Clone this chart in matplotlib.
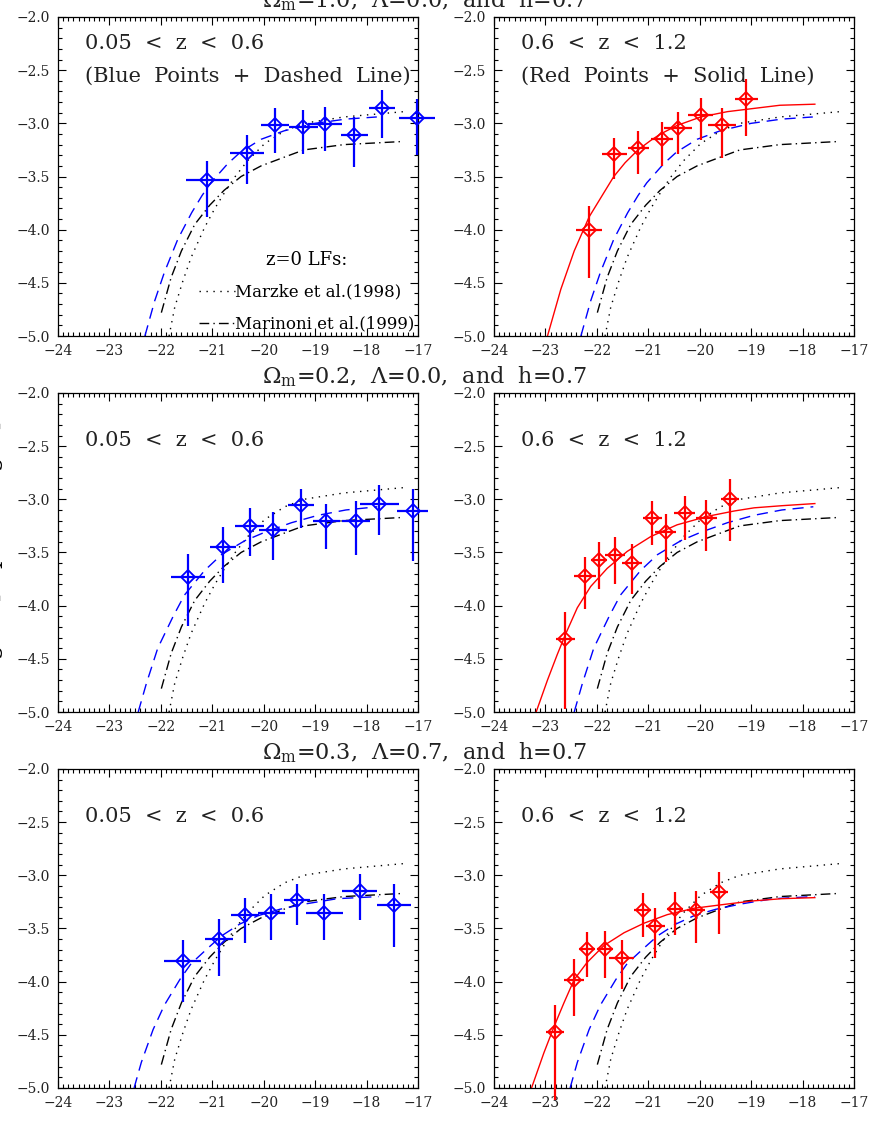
import matplotlib.pyplot as plt
from matplotlib.ticker import MultipleLocator

plt.rcParams['font.family'] = ['DejaVu Serif']
plt.rcParams['mathtext.fontset'] = 'dejavuserif'

# z=0 LFs (same in every panel)
marzke_m = [-21.84, -21.73, -21.57, -21.41, -21.15, -20.95, -20.76, -20.57, -20.31, -19.98, -19.59, -19.22, -18.44, -17.27]
marzke_phi = [-5.00, -4.73, -4.48, -4.26, -3.98, -3.80, -3.65, -3.51, -3.35, -3.19, -3.07, -3.00, -2.94, -2.89]
marinoni_m = [-21.99, -21.80, -21.60, -21.34, -21.05, -20.77, -20.44, -20.05, -19.61, -19.22, -18.44, -17.27]
marinoni_phi = [-4.78, -4.45, -4.20, -3.95, -3.77, -3.63, -3.50, -3.40, -3.32, -3.25, -3.20, -3.17]

# row 1: Om=1.0, L=0.0
r1_lo_m = [-21.10, -20.33, -19.78, -19.23, -18.81, -18.24, -17.70, -17.02]
r1_lo_phi = [-3.53, -3.28, -3.02, -3.03, -3.01, -3.11, -2.86, -2.95]
r1_lo_up = [0.18, 0.17, 0.16, 0.16, 0.16, 0.17, 0.17, 0.18]
r1_lo_dn = [0.35, 0.29, 0.26, 0.26, 0.25, 0.30, 0.28, 0.35]
r1_lo_dm = [0.42, 0.33, 0.28, 0.28, 0.33, 0.26, 0.26, 0.35]
r1_hi_m = [-22.15, -21.66, -21.19, -20.73, -20.42, -19.98, -19.57, -19.09]
r1_hi_phi = [-4.00, -3.29, -3.23, -3.15, -3.04, -2.92, -3.02, -2.77]
r1_hi_up = [0.22, 0.15, 0.16, 0.16, 0.15, 0.16, 0.16, 0.19]
r1_hi_dn = [0.45, 0.23, 0.25, 0.25, 0.25, 0.24, 0.31, 0.35]
r1_hi_dm = [0.25, 0.24, 0.21, 0.22, 0.27, 0.24, 0.27, 0.22]
r1_dash_m = [-22.31, -22.12, -21.93, -21.67, -21.40, -21.20, -21.03, -20.70, -20.45, -20.05, -19.60, -19.00, -18.40, -17.80]
r1_dash_phi = [-5.00, -4.67, -4.40, -4.09, -3.84, -3.68, -3.56, -3.38, -3.27, -3.15, -3.07, -3.00, -2.96, -2.94]
r1_solid_m = [-22.96, -22.70, -22.44, -22.15, -21.86, -21.67, -21.45, -21.20, -20.95, -20.76, -20.44, -19.98, -19.46, -18.95, -18.44, -17.76]
r1_solid_phi = [-5.00, -4.56, -4.20, -3.88, -3.65, -3.50, -3.37, -3.25, -3.16, -3.10, -3.02, -2.94, -2.89, -2.86, -2.83, -2.82]

# row 2: Om=0.2, L=0.0
r2_lo_m = [-21.47, -20.79, -20.27, -19.82, -19.28, -18.78, -18.21, -17.75, -17.10]
r2_lo_phi = [-3.73, -3.45, -3.25, -3.29, -3.05, -3.20, -3.20, -3.04, -3.11]
r2_lo_up = [0.22, 0.19, 0.17, 0.17, 0.15, 0.16, 0.18, 0.17, 0.21]
r2_lo_dn = [0.46, 0.34, 0.28, 0.28, 0.22, 0.27, 0.32, 0.30, 0.47]
r2_lo_dm = [0.33, 0.26, 0.28, 0.27, 0.25, 0.27, 0.27, 0.38, 0.30]
r2_hi_m = [-22.61, -22.23, -21.96, -21.65, -21.32, -20.92, -20.66, -20.29, -19.87, -19.41]
r2_hi_phi = [-4.31, -3.72, -3.57, -3.52, -3.60, -3.18, -3.31, -3.13, -3.18, -3.00]
r2_hi_up = [0.25, 0.18, 0.17, 0.17, 0.18, 0.16, 0.17, 0.16, 0.17, 0.19]
r2_hi_dn = [0.66, 0.31, 0.27, 0.28, 0.29, 0.25, 0.28, 0.25, 0.31, 0.39]
r2_hi_dm = [0.19, 0.22, 0.16, 0.19, 0.20, 0.18, 0.20, 0.20, 0.20, 0.17]
r2_dash_m = [-22.44, -22.28, -22.06, -21.76, -21.54, -21.15, -20.82, -20.37, -19.98, -19.46, -18.94, -18.40, -17.79]
r2_dash_phi = [-5.00, -4.73, -4.40, -4.10, -3.90, -3.67, -3.52, -3.39, -3.31, -3.22, -3.15, -3.10, -3.07]
r2_solid_m = [-23.18, -22.96, -22.77, -22.61, -22.38, -22.12, -21.80, -21.41, -20.95, -20.44, -19.85, -19.33, -18.94, -18.40, -17.76]
r2_solid_phi = [-5.00, -4.70, -4.46, -4.27, -4.02, -3.82, -3.65, -3.49, -3.35, -3.24, -3.16, -3.11, -3.08, -3.06, -3.04]

# row 3: Om=0.3, L=0.7
r3_lo_m = [-21.57, -20.87, -20.37, -19.85, -19.35, -18.82, -18.13, -17.47]
r3_lo_phi = [-3.81, -3.60, -3.37, -3.35, -3.23, -3.35, -3.15, -3.28]
r3_lo_up = [0.20, 0.19, 0.16, 0.17, 0.15, 0.17, 0.16, 0.20]
r3_lo_dn = [0.38, 0.35, 0.27, 0.26, 0.24, 0.26, 0.27, 0.39]
r3_lo_dm = [0.36, 0.27, 0.27, 0.26, 0.26, 0.36, 0.34, 0.33]
r3_hi_m = [-22.81, -22.44, -22.19, -21.84, -21.52, -21.11, -20.86, -20.48, -20.07, -19.62]
r3_hi_phi = [-4.47, -3.98, -3.69, -3.69, -3.78, -3.33, -3.48, -3.32, -3.33, -3.16]
r3_hi_up = [0.25, 0.19, 0.16, 0.17, 0.17, 0.16, 0.17, 0.16, 0.18, 0.19]
r3_hi_dn = [0.64, 0.34, 0.27, 0.28, 0.29, 0.25, 0.30, 0.24, 0.31, 0.39]
r3_hi_dm = [0.18, 0.19, 0.16, 0.16, 0.24, 0.16, 0.19, 0.16, 0.18, 0.18]
r3_dash_m = [-22.52, -22.38, -22.15, -21.93, -21.63, -21.41, -21.12, -20.82, -20.47, -20.11, -19.69, -19.20, -18.57, -17.76]
r3_dash_phi = [-5.00, -4.76, -4.45, -4.22, -3.98, -3.83, -3.70, -3.57, -3.46, -3.38, -3.32, -3.27, -3.22, -3.20]
r3_solid_m = [-23.27, -23.03, -22.83, -22.64, -22.44, -22.19, -21.86, -21.47, -21.08, -20.63, -20.11, -19.46, -18.94, -18.40, -17.76]
r3_solid_phi = [-5.00, -4.67, -4.42, -4.20, -3.98, -3.82, -3.66, -3.54, -3.45, -3.37, -3.31, -3.27, -3.24, -3.22, -3.21]

row_titles = [r"$\Omega_{\rm m}$=1.0,  $\Lambda$=0.0,  and  h=0.7",
              r"$\Omega_{\rm m}$=0.2,  $\Lambda$=0.0,  and  h=0.7",
              r"$\Omega_{\rm m}$=0.3,  $\Lambda$=0.7,  and  h=0.7"]

rows = [
    (r1_lo_m, r1_lo_phi, r1_lo_up, r1_lo_dn, r1_lo_dm,
     r1_hi_m, r1_hi_phi, r1_hi_up, r1_hi_dn, r1_hi_dm,
     r1_dash_m, r1_dash_phi, r1_solid_m, r1_solid_phi),
    (r2_lo_m, r2_lo_phi, r2_lo_up, r2_lo_dn, r2_lo_dm,
     r2_hi_m, r2_hi_phi, r2_hi_up, r2_hi_dn, r2_hi_dm,
     r2_dash_m, r2_dash_phi, r2_solid_m, r2_solid_phi),
    (r3_lo_m, r3_lo_phi, r3_lo_up, r3_lo_dn, r3_lo_dm,
     r3_hi_m, r3_hi_phi, r3_hi_up, r3_hi_dn, r3_hi_dm,
     r3_dash_m, r3_dash_phi, r3_solid_m, r3_solid_phi),
]

BLUE = '#0000ff'
RED = '#ff0000'
dotted = (0, (1, 4))
dashdot = (0, (7, 3, 1, 3))
dashed = (0, (8, 5))

fig = plt.figure(figsize=(8.72, 11.25), dpi=100)

col_x = [0.0665, 0.5665]
row_y = [0.7013, 0.3671, 0.0329]
w, h = 0.4128, 0.2836


def setup_axes(ax):
    ax.set_xlim(-24, -17)
    ax.set_ylim(-5, -2)
    ax.xaxis.set_major_locator(MultipleLocator(1))
    ax.xaxis.set_minor_locator(MultipleLocator(0.1))
    ax.yaxis.set_major_locator(MultipleLocator(0.5))
    ax.yaxis.set_minor_locator(MultipleLocator(0.1))
    ax.xaxis.set_major_formatter(plt.FuncFormatter(lambda v, p: "\u2212%d" % abs(v)))
    ax.yaxis.set_major_formatter(plt.FuncFormatter(lambda v, p: "\u2212%.1f" % abs(v)))
    ax.tick_params(which='both', direction='in', top=True, right=True,
                   labelsize=10, width=0.8, pad=6, labelcolor='#222222')
    ax.tick_params(which='major', length=6)
    ax.tick_params(which='minor', length=3)
    for s in ax.spines.values():
        s.set_linewidth(0.9)


def points(ax, m, phi, up, dn, dm, color):
    cont = ax.errorbar(m, phi, yerr=[dn, up], xerr=dm, fmt='D', ms=7,
                       mfc='none', mec=color, mew=1.3, color=color,
                       ecolor=color, elinewidth=1.6, capsize=0, zorder=5)
    for art in cont.get_children():
        art.set_clip_on(False)


for i, row in enumerate(rows):
    (lo_m, lo_phi, lo_up, lo_dn, lo_dm, hi_m, hi_phi, hi_up, hi_dn, hi_dm,
     dash_m, dash_phi, solid_m, solid_phi) = row
    for j in range(2):
        ax = fig.add_axes([col_x[j], row_y[i], w, h])
        setup_axes(ax)
        l1, = ax.plot(marzke_m, marzke_phi, color='black', lw=1.0, linestyle=dotted)
        l2, = ax.plot(marinoni_m, marinoni_phi, color='black', lw=1.0, linestyle=dashdot)
        ax.plot(dash_m, dash_phi, color=BLUE, lw=1.0, linestyle=dashed)
        if j == 0:
            points(ax, lo_m, lo_phi, lo_up, lo_dn, lo_dm, BLUE)
            label = "0.05  <  z  <  0.6"
        else:
            ax.plot(solid_m, solid_phi, color=RED, lw=1.0)
            points(ax, hi_m, hi_phi, hi_up, hi_dn, hi_dm, RED)
            label = "0.6  <  z  <  1.2"
        ty = 0.90 if i == 0 else 0.835
        ax.text(0.074, ty, label, transform=ax.transAxes, fontsize=15,
                va='baseline', color='#222222')
        if i == 0:
            sub = "(Blue  Points  +  Dashed  Line)" if j == 0 else "(Red  Points  +  Solid  Line)"
            ax.text(0.074, 0.796, sub, transform=ax.transAxes, fontsize=15,
                    va='baseline', color='#222222')
            if j == 0:
                leg = ax.legend([l1, l2], ["Marzke et al.(1998)", "Marinoni et al.(1999)"],
                                title="z=0 LFs:", loc='lower right', frameon=False,
                                fontsize=12, title_fontsize=13, handlelength=2.2,
                                handletextpad=0.0, labelspacing=0.9,
                                borderaxespad=0.0, borderpad=0.2)
                leg._legend_box.align = "center"
    fig.text(0.487, row_y[i] + h + 0.0085, row_titles[i], ha='center',
             va='baseline', fontsize=16, color='#222222')

fig.text(-0.011, 0.51, r"log $\Phi$  [Mpc$^{-3}$ mag$^{-1}$]", rotation=90,
         ha='center', va='center', fontsize=17)

fig.savefig('out.png', dpi=100)
